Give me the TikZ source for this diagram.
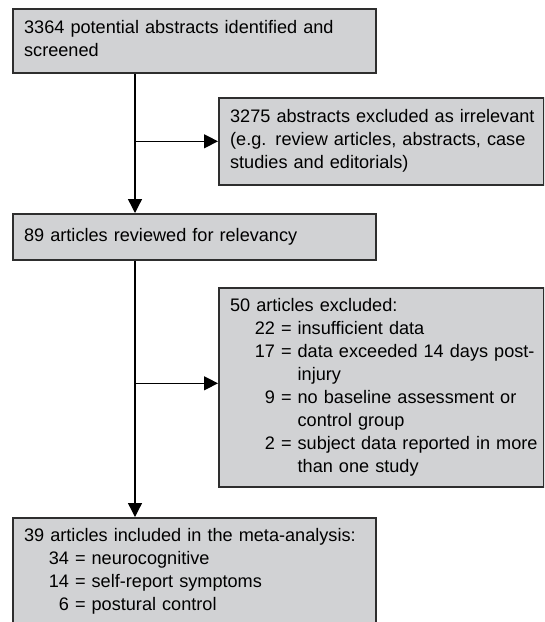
\documentclass[tikz,border=0pt]{standalone}
\usepackage{fontspec}
\setmainfont{Liberation Sans}
\usepackage{tikz}
\usetikzlibrary{arrows.meta}
\usetikzlibrary{positioning}
\usetikzlibrary{calc}
\definecolor{stagefill}{HTML}{D1D2D4}
\definecolor{stageline}{HTML}{2E2E2E}
\newcommand{\flowfont}{\fontsize{13.6pt}{17.25pt}\selectfont}

\begin{document}
\begin{tikzpicture}[
  x=0.75pt, y=-0.75pt,
  flow/.style ={
    -{Triangle[length=10.5pt,width=10.5pt]}, line width=1pt
  },
  stage/.style 2 args={
    rectangle,
    draw=stageline,
    line width=1.2pt,
    fill=stagefill,
    anchor=north west,
    text width=#1,
    minimum height=#2,
    inner xsep=8.5pt,
    inner ysep=0pt,
    align=left,
    font=\flowfont},
]

  \def\leftcol{12}%
  \def\rightcol{218}%
  \def\trunkx{135}%

  \useasboundingbox (0,0) rectangle (544,622);
  \clip (0,0) rectangle (544,622);

    % Main stages
    \node[stage={255.25pt}{48pt}] (screened) at (\leftcol,8)
        {\begin{tabular}{@{}l@{}}
            3364 potential abstracts identified and\\
            screened
         \end{tabular}};

    \node[stage={255.25pt}{34.5pt}] (reviewed) at (\leftcol,213)
        {\begin{tabular}{@{}l@{}}
            89 articles reviewed for relevancy
         \end{tabular}};

    \node[stage={255.25pt}{81pt}] (included) at (\leftcol,517)
        {\begin{tabular}{@{\hspace{18.5pt}}r@{ }c@{ }l@{}}
            \multicolumn{3}{@{}l@{}}{39 articles included in the meta-analysis:}\\
            34 & = & neurocognitive\\
            14 & = & self-report symptoms\\
            6 & = & postural control
         \end{tabular}};

    % Exclusions
    \node[stage={226.75pt}{65.25pt}] (irrelevant) at (\rightcol,97)
        {\begin{tabular}{@{}l@{}}
            3275 abstracts excluded as irrelevant\\
            (e.g. review articles, abstracts, case\\
            studies and editorials)
         \end{tabular}};

    \node[stage={226.75pt}{149.25pt}] (excluded) at (\rightcol,287)
        {\begin{tabular}{@{\hspace{18.5pt}}r@{ }c@{ }l@{}}
            \multicolumn{3}{@{}l@{}}{50 articles excluded:}\\
            22 & = & insufficient data\\
            17 & = & data exceeded 14 days post-\\
               &   & injury\\
            9 & = & no baseline assessment or\\
              &   & control group\\
            2 & = & subject data reported in more\\
              &   & than one study
         \end{tabular}};

    % Connectors
    \coordinate (trunk) at (\trunkx,0);
    \draw[flow] (screened.south -| trunk) -- (reviewed.north -| trunk);
    \draw[flow] (reviewed.south -| trunk) -- (included.north -| trunk);
    \draw[flow] (trunk |- irrelevant.west) -- (irrelevant.west);
    \draw[flow] ([yshift=3pt]trunk |- excluded.west)
        -- ([yshift=3pt]excluded.west);

\end{tikzpicture}
\end{document}
